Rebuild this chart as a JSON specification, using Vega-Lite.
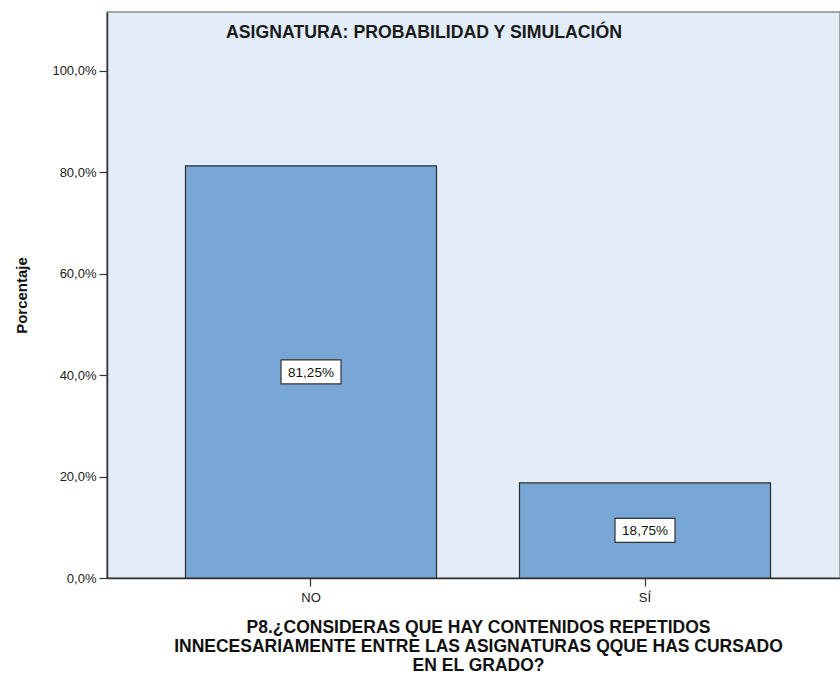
{
  "$schema": "https://vega.github.io/schema/vega-lite/v6.json",
  "width": 733,
  "height": 566,
  "autosize": {"type": "none"},
  "padding": {"left": 107, "top": 12, "right": 0, "bottom": 101},
  "background": "#ffffff",
  "title": {
    "text": "ASIGNATURA: PROBABILIDAD Y SIMULACIÓN",
    "anchor": "start",
    "frame": "group",
    "dx": 119,
    "offset": -30,
    "font": "Liberation Sans",
    "fontSize": 17.7,
    "fontWeight": "bold",
    "color": "#1a1a1a"
  },
  "data": {
    "values": [
      {"respuesta": "NO", "porcentaje": 81.25},
      {"respuesta": "SÍ", "porcentaje": 18.75}
    ]
  },
  "transform": [
    {"calculate": "datum.porcentaje / 2", "as": "centro"},
    {"calculate": "replace(format(datum.porcentaje, '.2f'), '.', ',') + '%'", "as": "etiqueta"}
  ],
  "encoding": {
    "x": {
      "field": "respuesta",
      "type": "nominal",
      "sort": ["NO", "SÍ"],
      "scale": {"range": [0, 742], "paddingInner": 0.2485, "paddingOuter": 0.235},
      "axis": {
        "title": ["P8.¿CONSIDERAS QUE HAY CONTENIDOS REPETIDOS", "INNECESARIAMENTE ENTRE LAS ASIGNATURAS QQUE HAS CURSADO", "EN EL GRADO?"],
        "titleFont": "Liberation Sans",
        "titleFontSize": 17.5,
        "titleFontWeight": "bold",
        "titleColor": "#111111",
        "titleLineHeight": 19,
        "titlePadding": 14,
        "titleAnchor": "middle",
        "labelAngle": 0,
        "labelFont": "Liberation Sans",
        "labelFontSize": 13,
        "labelColor": "#222222",
        "labelPadding": 5,
        "domainColor": "#333333",
        "domainWidth": 1.5,
        "tickColor": "#333333",
        "tickSize": 8,
        "tickWidth": 1.2
      }
    }
  },
  "layer": [
    {
      "mark": {"type": "bar", "fill": "#79A7D5", "stroke": "#2a2a2a", "strokeWidth": 1.2},
      "encoding": {
        "y": {
          "field": "porcentaje",
          "type": "quantitative",
          "title": "Porcentaje",
          "scale": {"domain": [0, 111.6], "nice": false},
          "axis": {
            "values": [0, 20, 40, 60, 80, 100],
            "labelExpr": "replace(format(datum.value, '.1f'), '.', ',') + '%'",
            "grid": false,
            "labelFont": "Liberation Sans",
            "labelFontSize": 13,
            "labelColor": "#222222",
            "labelPadding": 3,
            "titleFont": "Liberation Sans",
            "titleFontSize": 15,
            "titleFontWeight": "bold",
            "titleColor": "#111111",
            "titlePadding": 22,
            "domainColor": "#333333",
            "domainWidth": 1.5,
            "tickColor": "#333333",
            "tickSize": 8,
            "tickWidth": 1.2
          }
        }
      }
    },
    {
      "mark": {
        "type": "point",
        "shape": "M-1,-0.4H1V0.4H-1Z",
        "size": 3600,
        "filled": true,
        "fill": "#ffffff",
        "stroke": "#333333",
        "strokeWidth": 1.2,
        "opacity": 1
      },
      "encoding": {
        "y": {"field": "centro", "type": "quantitative", "title": "Porcentaje"}
      }
    },
    {
      "mark": {"type": "text", "font": "Liberation Sans", "fontSize": 13.5, "color": "#111111", "baseline": "middle", "align": "center", "dy": 1},
      "encoding": {
        "y": {"field": "centro", "type": "quantitative", "title": "Porcentaje"},
        "text": {"field": "etiqueta"}
      }
    }
  ],
  "config": {
    "view": {"fill": "#E2EDF9", "stroke": "#8a8a8a", "strokeWidth": 1.5}
  }
}
